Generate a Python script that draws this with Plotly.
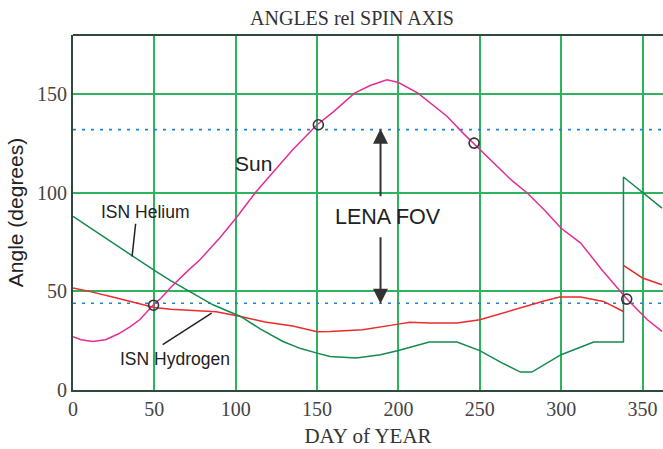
import plotly.graph_objects as go

# ---------------- data ----------------
sun_day = [0, 5, 12, 20, 28, 35, 41, 46, 50, 54, 60, 70, 78, 90, 100, 112, 125, 135, 150, 160,
           173, 183, 193, 200, 212, 222, 230, 240, 246, 256, 270, 279, 290, 300, 312, 325, 340, 353, 362]
sun_val = [27, 25.5, 24.6, 25.5, 28.5, 32, 35.6, 40, 43.7, 46.5, 52, 60, 66, 77, 87, 100, 112.5, 121.8, 134.5, 141,
           150.5, 154.5, 157.3, 155.9, 150.5, 144, 138.7, 130, 125.2, 117.6, 106, 100, 91, 82, 74.5, 61, 46.5, 35.6, 29.7]

he_day = [0, 10, 20, 30, 40, 50, 60, 75, 86, 103, 115, 129, 140, 150, 158, 174, 189, 200, 210, 219, 236,
          250, 263, 275, 282, 300, 320, 338.3, 338.3, 350, 362]
he_val = [88, 82.5, 77, 71.5, 66, 60.6, 55.5, 48.5, 43.2, 37.3, 31, 24.6, 21, 18.7, 17, 16.2, 17.9, 20, 22.2, 24.3, 24.3,
          20, 14, 9.1, 9.1, 17.9, 24.3, 24.3, 108, 100.1, 92.2]

h_day = [0, 10, 25, 40, 50, 60, 75, 88, 103, 118, 135, 150, 158, 178, 200, 207, 219, 236, 250, 263, 277,
         290, 299, 312, 326, 338.3, None, 338.3, 350, 362]
h_val = [51.7, 50, 47, 44, 41.8, 41, 40.5, 39.7, 37.3, 34.5, 32.4, 29.5, 29.7, 30.6, 33.4, 34.3, 34, 34, 35.6, 38.8, 42.3,
         45.3, 47.1, 47.1, 44.9, 39.8, None, 63.2, 56.8, 53.4]

fov_limits = [44, 132]
circle_day = [49.5, 150.8, 246.5, 340.3]
circle_val = [43, 134.5, 125.2, 46.1]

x_ticks = [0, 50, 100, 150, 200, 250, 300, 350]
y_ticks = [0, 50, 100, 150]

# ---------------- styles ----------------
GRID = "#2db35e"
AXIS = "#2e4a3a"
SERIF = "Liberation Serif, Times New Roman, serif"
SANS = "Liberation Sans, Arial, sans-serif"
XMAX = 362.6
W, H = 663, 449

fig = go.Figure()

for lim in fov_limits:
    fig.add_trace(go.Scatter(x=[0, XMAX], y=[lim, lim], mode="lines",
                             line=dict(color="#1f82d6", width=1.6, dash="3px,6px"),
                             hoverinfo="skip", showlegend=False))

fig.add_trace(go.Scatter(x=h_day, y=h_val, mode="lines", connectgaps=False,
                         line=dict(color="#ee2a2a", width=1.5), name="ISN Hydrogen", showlegend=False))
fig.add_trace(go.Scatter(x=he_day, y=he_val, mode="lines",
                         line=dict(color="#158a4e", width=1.5), name="ISN Helium", showlegend=False))
fig.add_trace(go.Scatter(x=sun_day, y=sun_val, mode="lines",
                         line=dict(color="#e52d93", width=1.5), name="Sun", showlegend=False))
fig.add_trace(go.Scatter(x=circle_day, y=circle_val, mode="markers",
                         marker=dict(symbol="circle-open", size=10, color="#333333",
                                     line=dict(width=1.6, color="#333333")),
                         showlegend=False))

# leader lines
fig.add_shape(type="line", xref="x", yref="y", x0=38.5, y0=84.3, x1=36.3, y1=67.7,
              line=dict(color="#222222", width=1.5))
fig.add_shape(type="line", xref="x", yref="y", x0=55.1, y0=23, x1=85.2, y1=39,
              line=dict(color="#222222", width=1.5))

# arrows
fig.add_annotation(x=189, y=132.5, ax=189, ay=97.5, xref="x", yref="y", axref="x", ayref="y",
                   text="", showarrow=True, arrowhead=2, arrowsize=1.5, arrowwidth=2, arrowcolor="#333333")
fig.add_annotation(x=189, y=43.7, ax=189, ay=78.2, xref="x", yref="y", axref="x", ayref="y",
                   text="", showarrow=True, arrowhead=2, arrowsize=1.5, arrowwidth=2, arrowcolor="#333333")

# labels
fig.add_annotation(x=110.8, y=115, xref="x", yref="y", text="Sun", showarrow=False,
                   font=dict(family=SANS, size=21, color="#222222"))
fig.add_annotation(x=44.6, y=90.5, xref="x", yref="y", text="ISN Helium", showarrow=False,
                   font=dict(family=SANS, size=17.5, color="#222222"))
fig.add_annotation(x=62.7, y=15.9, xref="x", yref="y", text="ISN Hydrogen", showarrow=False,
                   font=dict(family=SANS, size=17.5, color="#222222"))
fig.add_annotation(x=193.6, y=87.8, xref="x", yref="y", text="LENA FOV", showarrow=False,
                   font=dict(family=SANS, size=21.5, color="#222222"))

fig.update_layout(
    width=W, height=H,
    margin=dict(l=73, r=0, t=35, b=59),
    paper_bgcolor="white", plot_bgcolor="white",
    title=dict(text="ANGLES rel SPIN AXIS", x=352 / W, xref="container", xanchor="center",
               y=1 - 18 / H, yref="container", yanchor="middle",
               font=dict(family=SERIF, size=20, color="#333333")),
    xaxis=dict(range=[0, XMAX], tickvals=x_ticks, ticktext=[str(v) for v in x_ticks],
               showgrid=True, gridcolor=GRID, gridwidth=2, zeroline=False,
               showline=True, linecolor=AXIS, linewidth=2, mirror=False,
               ticks="", tickfont=dict(family=SERIF, size=20, color="#444444"),
               title=dict(text="DAY of YEAR", standoff=9,
                          font=dict(family=SERIF, size=21, color="#333333"))),
    yaxis=dict(range=[0, 180], tickvals=y_ticks, ticktext=[str(v) for v in y_ticks],
               showgrid=True, gridcolor=GRID, gridwidth=2, zeroline=False,
               showline=True, linecolor=AXIS, linewidth=2,
               ticks="", tickfont=dict(family=SERIF, size=20, color="#444444"),
               title=dict(text="Angle (degrees)", standoff=8,
                          font=dict(family=SANS, size=21, color="#222222"))),
)

# top frame line
fig.add_shape(type="line", xref="paper", yref="paper", x0=0, x1=1, y0=1, y1=1,
              line=dict(color=AXIS, width=2))

fig.write_html("out.html", config={"displayModeBar": False},
               post_script="document.body.style.margin='0';document.body.style.overflow='hidden';")
